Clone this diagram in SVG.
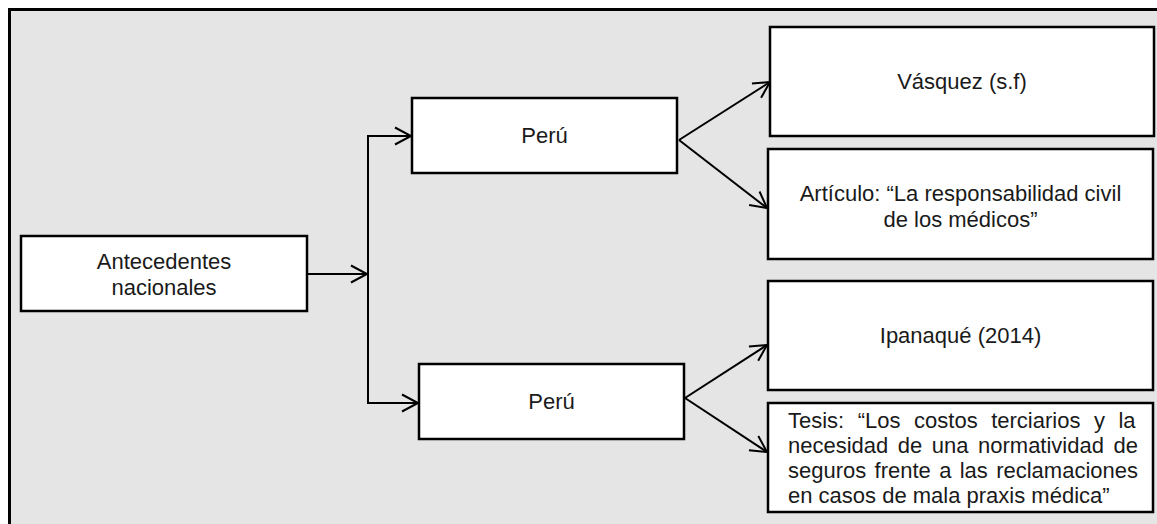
<svg xmlns="http://www.w3.org/2000/svg" width="1157" height="524" viewBox="0 0 1157 524">
<style>
.box{fill:#ffffff;stroke:#000000;stroke-width:2.5}
.t{font-family:"Liberation Sans",Arial,sans-serif;font-size:22px;fill:#1a1a1a}
.c{text-anchor:middle}
.ln{fill:none;stroke:#000000;stroke-width:2;marker-end:url(#ah)}
</style>
<defs>
<marker id="ah" markerUnits="userSpaceOnUse" markerWidth="24" markerHeight="24" viewBox="-20 -12 24 24" refX="0" refY="0" orient="auto">
<path d="M-16,-8.5 L0,0 L-16,8.5" fill="none" stroke="#000000" stroke-width="2"/>
</marker>
</defs>
<rect x="0" y="0" width="1157" height="524" fill="#ffffff"/>
<rect id="frame" x="9.5" y="9.5" width="1160" height="530" fill="#e5e5e5" stroke="#000000" stroke-width="3"/>
<g id="connectors">
<path class="ln" d="M307,274 H367"/>
<path class="ln" d="M368,274 V136 H411"/>
<path class="ln" d="M368,274 V403 H418"/>
<path class="ln" d="M679,140 L770,82"/>
<path class="ln" d="M679,140 L767,208"/>
<path class="ln" d="M685,398 L767,345"/>
<path class="ln" d="M685,398 L767,452"/>
</g>
<g id="antecedentes">
<rect class="box" x="21" y="236" width="286" height="75"/>
<text class="t c" x="164" y="269">Antecedentes</text>
<text class="t c" x="164" y="295">nacionales</text>
</g>
<g id="peru1">
<rect class="box" x="412" y="98" width="265" height="75"/>
<text class="t c" x="544.5" y="143">Perú</text>
</g>
<g id="peru2">
<rect class="box" x="419" y="364" width="265" height="75"/>
<text class="t c" x="551.5" y="409">Perú</text>
</g>
<g id="vasquez">
<rect class="box" x="770" y="27" width="384" height="109"/>
<text class="t c" x="962" y="89">Vásquez (s.f)</text>
</g>
<g id="articulo">
<rect class="box" x="768" y="149" width="385" height="110"/>
<text class="t c" x="960.5" y="201">Artículo: “La responsabilidad civil</text>
<text class="t c" x="960.5" y="227">de los médicos”</text>
</g>
<g id="ipanaque">
<rect class="box" x="768" y="281" width="385" height="109"/>
<text class="t c" x="960.5" y="343">Ipanaqué (2014)</text>
</g>
<g id="tesis">
<rect class="box" x="768" y="403" width="385" height="109"/>
<text class="t" x="788" y="428" word-spacing="7.4">Tesis: “Los costos terciarios y la</text>
<text class="t" x="788" y="453" word-spacing="3.4">necesidad de una normatividad de</text>
<text class="t" x="788" y="478" word-spacing="2.2">seguros frente a las reclamaciones</text>
<text class="t" x="788" y="503">en casos de mala praxis médica”</text>
</g>
</svg>
